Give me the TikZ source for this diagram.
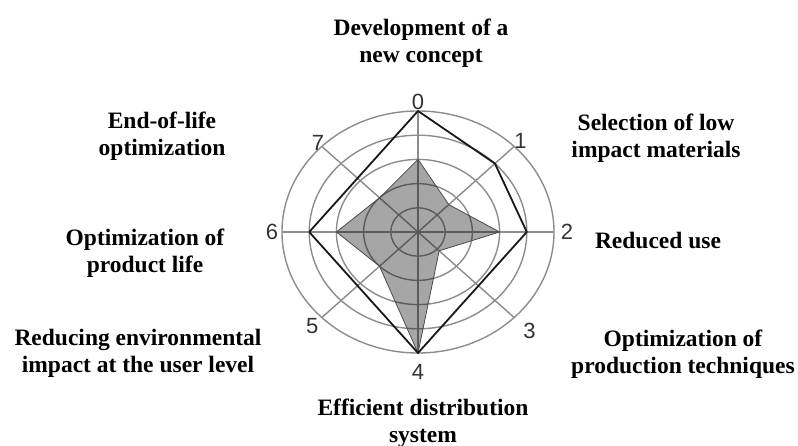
\documentclass[tikz,border=0pt]{standalone}
\usepackage{fontspec}
\setmainfont{Liberation Serif}
\newfontfamily\digitfont{Liberation Sans}
\usepackage{tikz}

\begin{document}
\begin{tikzpicture}[x=1pt, y=1pt,
	ring/.style={draw=black!45, line width=1.4pt},
	outline/.style={draw=black!90, line width=1.8pt, line join=round},
	area/.style={fill=black, fill opacity=0.35, draw=black!70, line width=0.8pt},
	axislabel/.style={font=\digitfont\fontsize{22}{22}\selectfont, text=black!80, inner sep=0pt},
	topic/.style={font=\bfseries\fontsize{23.5}{27}\selectfont, align=center, inner sep=0pt}]
	\useasboundingbox (0,0) rectangle (798,446);
	\coordinate (c) at (418,214);
	\begin{scope}[shift={(c)}, xscale=27.2, yscale=24.2]
		% Rings and spokes
		\foreach \r in {1,...,5} {
			\draw[ring] (0,0) circle (\r);
		}
		\foreach \k in {0,...,7} {
			\draw[ring] (0,0) -- ({90-45*\k}:5);
		}
		% Axis numbers
		\foreach \k/\d in {0/5.37,1/5.33,2/5.48,3/5.8,4/5.79,5/5.5,6/5.37,7/5.2} {
			\node[axislabel] (num\k) at ({90-45*\k}:\d) {\k};
		}
		% Present profile
		\filldraw[area] (90:3) -- (45:1.6) -- (0:3) -- (-45:1.1) -- (-90:5) -- (-135:2) -- (180:3) -- (135:2) -- cycle;
		% Target profile
		\draw[outline] (90:5) -- (45:4) -- (0:4) -- (-90:5) -- (180:4) -- cycle;
	\end{scope}
	% Strategies
	\node[topic] (concept) at (421,403) {Development of a\\new concept};
	\node[topic] (materials) at (656,307.5) {Selection of low\\impact materials};
	\node[topic] (reduced) at (658,206) {Reduced use};
	\node[topic] (production) at (683,91.5) {Optimization of\\production techniques};
	\node[topic] (distribution) at (423,23) {Efficient distribution\\system};
	\node[topic] (userlevel) at (138,92.5) {Reducing environmental\\impact at the user level};
	\node[topic] (productlife) at (145,192.5) {Optimization of\\product life};
	\node[topic] (endoflife) at (162,309.5) {End-of-life\\optimization};
\end{tikzpicture}
\end{document}
